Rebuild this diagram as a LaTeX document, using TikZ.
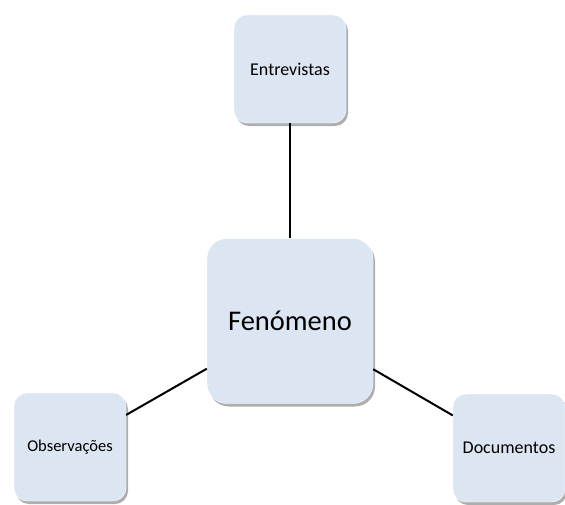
\documentclass[tikz,border=0pt]{standalone}
\usepackage{fontspec}
\setmainfont{Carlito}
\usetikzlibrary{shapes,shadows,positioning}
\definecolor{boxblue}{RGB}{220,230,242}
\tikzset{
	fonte/.style={
		rectangle,
		rounded corners=13pt,
		fill=boxblue,
		draw=white, thin,
		minimum width=112pt,
		minimum height=108pt,
		text centered,
		font=\fontsize{18}{21}\selectfont,
		drop shadow={shadow xshift=2pt, shadow yshift=-3pt, opacity=0.45, fill=black!70}},
	centro/.style={
		fonte,
		rounded corners=20pt,
		minimum width=166pt,
		minimum height=165pt,
		font=\fontsize{28.5}{33}\selectfont},
	ligacao/.style={draw, line width=2pt},
}

\begin{document}
\begin{tikzpicture}[x=1pt,y=-1pt]
\useasboundingbox (0,0) rectangle (565,504);
\node[centro] (fen) at (290,321) {Fenómeno};
\node[fonte] (entr) at (290,69) {Entrevistas};
\node[fonte, font=\fontsize{16.5}{20}\selectfont] (obs) at (70,447) {Observações};
\node[fonte] (doc) at (509,448) {Documentos};
\path[ligacao] (entr) -- (fen);
\path[ligacao] (fen) -- (obs);
\path[ligacao] (fen) -- (doc);
\end{tikzpicture}
\end{document}
